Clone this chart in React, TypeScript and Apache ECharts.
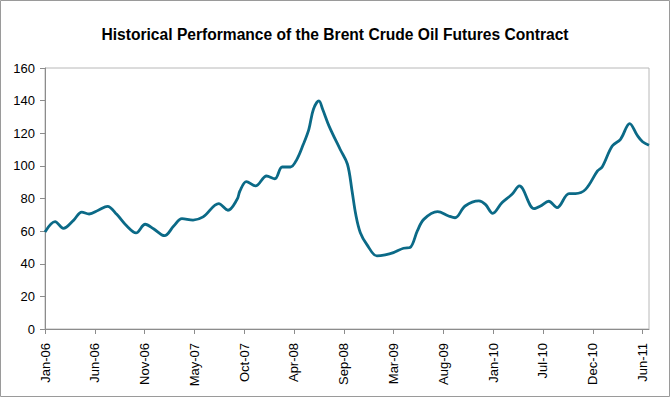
import React, { useEffect, useRef } from "react";
import * as echarts from "echarts";

const chartTitle = "Historical Performance of the Brent Crude Oil Futures Contract";

// x axis tick labels, evenly spaced from Jan-06 to Jun-11
const tickLabels = [
  "Jan-06", "Jun-06", "Nov-06", "May-07", "Oct-07", "Apr-08", "Sep-08",
  "Mar-09", "Aug-09", "Jan-10", "Jul-10", "Dec-10", "Jun-11",
];

// months elapsed since January 2006
const monthOffsets = [
  0, 1.1, 2.0, 3.1, 4.0, 4.8, 5.8, 6.8, 7.8, 8.9,
  9.9, 10.9, 11.8, 13.0, 14.0, 14.9, 16.1, 17.2, 18.9, 19.9,
  20.9, 21.2, 21.9, 22.9, 24.1, 25.0, 25.8, 26.7, 27.4, 28.1,
  28.7, 29.2, 29.8, 30.2, 30.9, 32.1, 32.9, 33.4, 33.8, 34.3,
  35.0, 36.1, 37.0, 37.9, 39.0, 39.7, 40.5, 41.2, 42.7, 43.9,
  44.6, 45.7, 47.2, 47.9, 48.7, 49.7, 50.8, 51.6, 53.2, 53.9,
  54.8, 55.7, 57.0, 57.7, 58.8, 60.1, 60.6, 61.7, 62.6, 63.6,
  64.4, 65.0, 65.7,
];

// Brent futures price (USD/bbl)
const prices = [
  59.5, 65.8, 61.7, 66.6, 71.7, 70.5, 72.8, 75.2, 70.3, 63.1,
  58.9, 64.2, 61.5, 57.2, 63.1, 67.7, 66.8, 68.7, 76.8, 72.8,
  79.5, 84.6, 90.4, 87.7, 93.8, 92.1, 99.3, 99.3, 104, 113.2,
  122.4, 134.7, 139.8, 134.7, 124.4, 110.2, 101, 84.6, 70.3, 59,
  51.9, 44.8, 45.4, 46.8, 49.5, 49.9, 60.1, 67.2, 71.9, 69.3,
  68.2, 75.4, 78.5, 76.4, 70.9, 77.4, 82.6, 87.7, 73.8, 75.4,
  78.3, 74.4, 83, 83, 85.6, 96.9, 99.3, 112.2, 116.3, 125.9,
  118.9, 114.8, 112.6,
];

const labelStep = 65 / 12;

export default function App() {
  const ref = useRef<HTMLDivElement>(null);

  useEffect(() => {
    document.body.style.margin = "0";
    if (!ref.current) return;
    const chart = echarts.init(ref.current, null, { renderer: "svg" });
    const font = "Arial, 'Liberation Sans', sans-serif";
    chart.setOption({
      animation: false,
      backgroundColor: "#ffffff",
      title: {
        text: chartTitle,
        left: "center",
        top: 21,
        textStyle: { fontFamily: font, fontSize: 15.6, fontWeight: "bold", color: "#000" },
      },
      grid: {
        left: 45,
        right: 21,
        top: 68,
        bottom: 68,
        show: true,
        borderColor: "#b8b8b8",
        borderWidth: 1,
        backgroundColor: "#ffffff",
      },
      xAxis: {
        type: "value",
        min: 0,
        max: 65.7,
        interval: labelStep,
        axisLine: { show: true, lineStyle: { color: "#8c8c8c", width: 1 } },
        axisTick: { show: true, length: 5, lineStyle: { color: "#8c8c8c" } },
        splitLine: { show: false },
        axisLabel: {
          rotate: 90,
          margin: 14,
          showMaxLabel: false,
          fontFamily: font,
          fontSize: 13,
          color: "#000",
          formatter: (v: number) => tickLabels[Math.round(v / labelStep)] ?? "",
        },
      },
      yAxis: {
        type: "value",
        min: 0,
        max: 160,
        interval: 20,
        axisLine: { show: true, lineStyle: { color: "#8c8c8c", width: 1 } },
        axisTick: { show: true, length: 5, lineStyle: { color: "#8c8c8c" } },
        splitLine: { show: false },
        axisLabel: { margin: 10, fontFamily: font, fontSize: 13, color: "#000" },
      },
      series: [
        {
          type: "line",
          data: monthOffsets.map((m, i) => [m, prices[i]]),
          smooth: 0.35,
          showSymbol: false,
          lineStyle: { color: "#0b6a87", width: 2.8 },
        },
      ],
      graphic: [
        {
          type: "rect",
          shape: { x: 0.5, y: 0.5, width: 669, height: 396 },
          style: { fill: "none", stroke: "#9a9a9a", lineWidth: 1 },
          silent: true,
        },
      ],
    });
    return () => chart.dispose();
  }, []);

  return <div ref={ref} style={{ width: 670, height: 397 }} />;
}
